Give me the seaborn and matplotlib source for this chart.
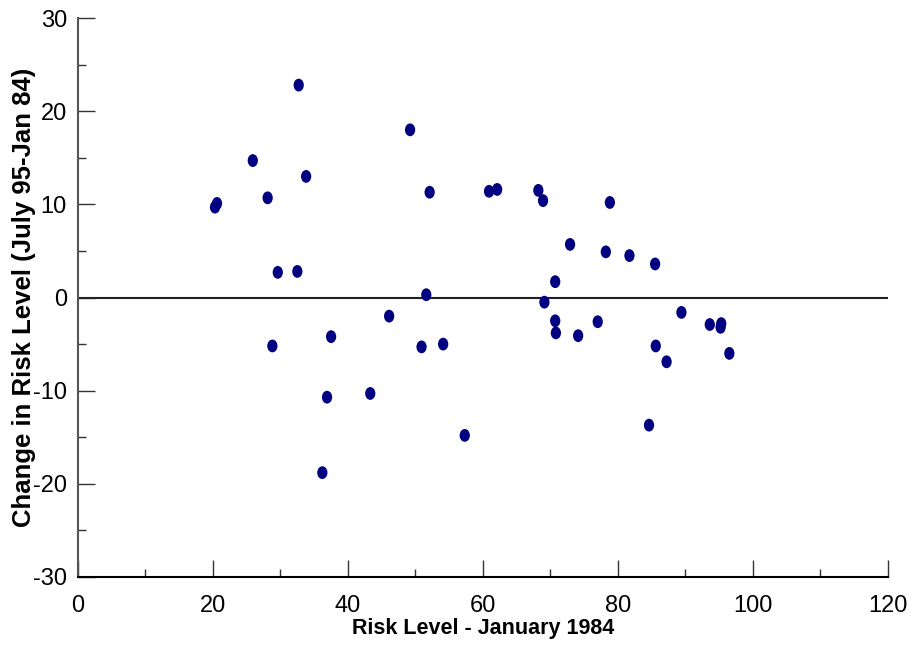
import matplotlib
matplotlib.use("Agg")
import matplotlib.pyplot as plt
from matplotlib.path import Path
from matplotlib.ticker import MultipleLocator
import numpy as np
import pandas as pd
import seaborn as sns

# risk level in Jan 1984 and change Jan 84 -> July 95
risk_1984 = [20.3, 20.6, 25.9, 32.7, 28.1, 33.8, 49.2, 52.1,
             29.6, 32.5, 51.6, 46.1, 37.5, 28.8, 50.9, 54.1, 36.9, 43.3, 36.2,
             60.9, 62.1, 68.2, 68.9, 78.8, 72.9, 78.2, 81.7, 85.5, 70.7,
             69.1, 70.7, 70.8, 74.1, 77.0, 57.3, 85.6, 87.2, 89.4, 93.6,
             95.3, 95.2, 96.5, 84.6]
risk_change = [9.7, 10.1, 14.7, 22.8, 10.7, 13.0, 18.0, 11.3,
               2.7, 2.8, 0.3, -2.0, -4.2, -5.2, -5.3, -5.0, -10.7, -10.3, -18.8,
               11.4, 11.6, 11.5, 10.4, 10.2, 5.7, 4.9, 4.5, 3.6, 1.7,
               -0.5, -2.5, -3.8, -4.1, -2.6, -14.8, -5.2, -6.9, -1.6, -2.9,
               -2.8, -3.2, -6.0, -13.7]

df = pd.DataFrame({"risk": risk_1984, "change": risk_change})

sns.set_style("white")
plt.rcParams["font.family"] = ["Liberation Sans", "DejaVu Sans"]
plt.rcParams["axes.unicode_minus"] = False

# slightly tall ellipse marker
circ = Path.unit_circle()
ellipse = Path(circ.vertices * np.array([0.8, 1.0]), circ.codes)

fig = plt.figure(figsize=(9.13, 6.53), dpi=100)
ax = fig.add_axes([0.0854, 0.1164, 0.8872, 0.856])

ax.axhline(0, color="#222222", lw=1.5, zorder=1)
sns.scatterplot(data=df, x="risk", y="change", ax=ax, marker=ellipse,
                s=85, color="#000080", edgecolor="none", zorder=3)

ax.set_xlim(0, 120)
ax.set_ylim(-30, 30)
ax.xaxis.set_major_locator(MultipleLocator(20))
ax.xaxis.set_minor_locator(MultipleLocator(10))
ax.yaxis.set_major_locator(MultipleLocator(10))
ax.yaxis.set_minor_locator(MultipleLocator(5))
ax.tick_params(which="both", direction="in", bottom=True, left=True,
               colors="#333333", labelcolor="black", labelsize=17)
ax.tick_params(which="major", length=12, width=1)
ax.tick_params(which="minor", length=6, width=1)
ax.tick_params(axis="x", which="both", pad=13)
ax.tick_params(axis="y", which="both", pad=8)

for side in ["top", "right"]:
    ax.spines[side].set_visible(False)
ax.spines["left"].set_color("#555555")
ax.spines["left"].set_linewidth(1.5)
ax.spines["bottom"].set_color("black")
ax.spines["bottom"].set_linewidth(1.5)

ax.set_xlabel("Risk Level - January 1984", fontsize=15.5, fontweight="bold",
              color="black", labelpad=1)
ax.set_ylabel("Change in Risk Level (July 95-Jan 84)", fontsize=18.5,
              fontweight="bold", color="black", labelpad=-2)

fig.savefig("out.png", dpi=100)
